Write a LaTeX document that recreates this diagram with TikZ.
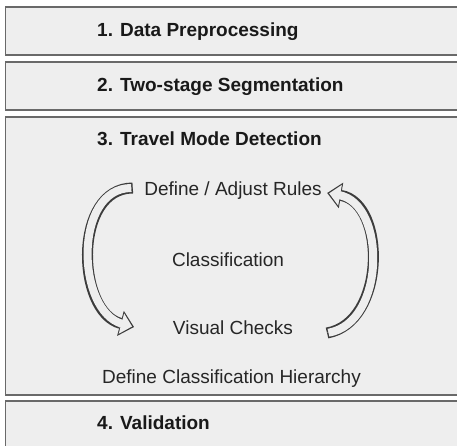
\documentclass[tikz,border=0pt]{standalone}
\usepackage{fontspec}
\setmainfont{Liberation Sans}
\usepackage{tikz}
\usetikzlibrary{arrows.meta}
\definecolor{boxfill}{RGB}{238,238,238}
\definecolor{boxline}{RGB}{105,105,105}
\definecolor{textdark}{RGB}{38,38,38}
\definecolor{loopline}{RGB}{60,60,60}
\tikzset
{
  stagebox/.style={draw=boxline,fill=boxfill,line width=1.3pt},
  stagetitle/.style={anchor=base west,inner sep=0pt,font=\fontsize{19}{23}\selectfont\bfseries,text=black!90},
  steptext/.style={anchor=base,inner sep=0pt,text height=14pt,text depth=4pt,font=\fontsize{19}{23}\selectfont,text=textdark},
  loopouter/.style={draw=loopline,line width=11pt,-{Triangle[length=14pt,width=26pt,line width=0pt]}},
  loopinner/.style={draw=boxfill,line width=8pt,shorten <=1.5pt,shorten >=12pt},
  loophead/.style={draw=boxfill,line width=0.2pt,shorten >=2pt,-{Triangle[length=11pt,width=21pt,line width=0pt]}}
}

\begin{document}
\begin{tikzpicture}[x=1pt,y=1pt]
        \useasboundingbox (0,0) rectangle (457,445);
        \clip (0,0) rectangle (457,445);

        % Stage boxes
        \foreach \ytop/\ybot in {438/390, 383/335, 328/50, 44/-10}
            \draw[stagebox] (5.8,\ytop) rectangle (465,\ybot);

        % Stage titles
        \node[stagetitle] (prep) at (97,408.5) {1. Data Preprocessing};
        \node[stagetitle] (segm) at (97,353.3) {2. Two-stage Segmentation};
        \node[stagetitle] (detect) at (97,299) {3. Travel Mode Detection};
        \node[stagetitle] (valid) at (97,16) {4. Validation};

        % Detection cycle
        \node[steptext] (rules) at (233,250) {Define / Adjust Rules};
        \node[steptext] (classif) at (228,179) {Classification};
        \node[steptext] (checks) at (233,111) {Visual Checks};
        \node[steptext] (hier) at (231.5,61.7) {Define Classification Hierarchy};

        % Hollow loop arrows
        \foreach \layer in {loopouter,loopinner,loophead}
            \draw[\layer] ([xshift=-11.3pt,yshift=2pt]rules.west)
                to[out=180,in=165,looseness=1.1] ([xshift=-38.8pt,yshift=2pt]checks.west);
        \foreach \layer in {loopouter,loopinner,loophead}
            \draw[\layer] ([xshift=33.8pt,yshift=-4pt]checks.east)
                to[out=10,in=-10,looseness=1.1] ([xshift=5.3pt,yshift=-3pt]rules.east);
    \end{tikzpicture}
\end{document}
